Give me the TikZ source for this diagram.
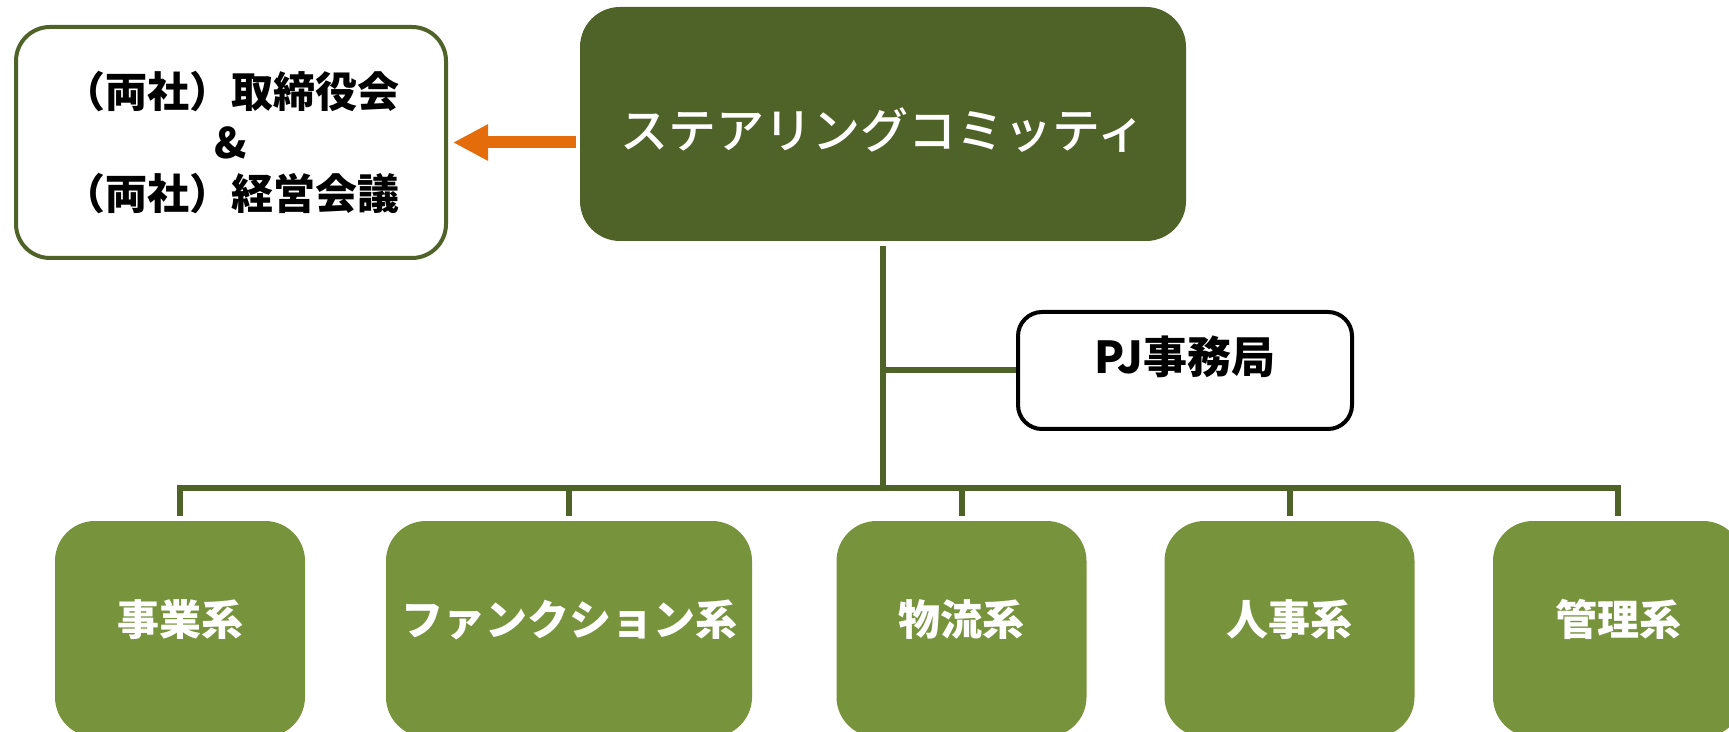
\documentclass[tikz,border=0pt]{standalone}
\usepackage{fontspec}
\setmainfont{Noto Sans CJK JP}
\newfontfamily\jpmedium{Noto Sans CJK JP Medium}
\usetikzlibrary{arrows.meta}
\definecolor{olivedark}{HTML}{4F6228}
\definecolor{olivelight}{HTML}{77933C}
\definecolor{signorange}{HTML}{E46C0A}
\tikzset{
  conn/.style={draw=olivedark,line width=3pt},
  council/.style={draw=olivedark,line width=2pt,fill=white,rounded corners=17pt,
    minimum width=215pt,minimum height=115.5pt,align=center,
    font=\bfseries\fontsize{21}{25.5}\selectfont},
  steer/.style={fill=olivedark,text=white,rounded corners=20pt,
    minimum width=303pt,minimum height=117pt,text height=26pt,
    font=\jpmedium\fontsize{24}{28}\selectfont},
  office/.style={draw=black,line width=2pt,fill=white,rounded corners=12pt,
    minimum width=167pt,minimum height=58.5pt,text depth=15.5pt,
    font=\bfseries\fontsize{22}{26}\selectfont},
  unit/.style={fill=olivelight,text=white,rounded corners=20pt,
    minimum width=125pt,minimum height=108pt,text depth=11.5pt,
    font=\bfseries\fontsize{21}{25}\selectfont}
}
\begin{document}
\begin{tikzpicture}[x=0.5pt,y=-0.5pt]
  \useasboundingbox (0,0) rectangle (1729,732);
  \node[council] (board) at (231,142.5) {（両社）取締役会\\\&\\（両社）経営会議};
  \node[steer] (sc) at (883,124) {ステアリングコミッティ};
  \node[office] (pj) at (1185,370.5) {PJ事務局};
  \node[unit] (jigyo) at (180,629) {事業系};
  \node[unit,minimum width=183pt] (func) at (569,629) {ファンクション系};
  \node[unit] (butsu) at (961.5,629) {物流系};
  \node[unit] (jinji) at (1289.5,629) {人事系};
  \node[unit] (kanri) at (1618,629) {管理系};
  \coordinate (bus) at (883,488);
  % report line
  \draw[-{Triangle[length=17.5pt,width=17pt]},line width=6pt,signorange,
    shorten <=2pt,shorten >=2.5pt] (sc.west |- board.east) -- (board.east);
  % tree
  \draw[conn,shorten <=2.5pt] (sc.south) -- (bus);
  \draw[conn] (sc.south |- pj.west) -- (pj.west);
  \draw[conn,shorten <=2.5pt,shorten >=2.5pt] (jigyo.north) |- (bus) -| (kanri.north);
  \foreach \n in {func,butsu,jinji}
    \draw[conn,shorten >=2.5pt] (\n.north |- bus) -- (\n.north);
\end{tikzpicture}
\end{document}
